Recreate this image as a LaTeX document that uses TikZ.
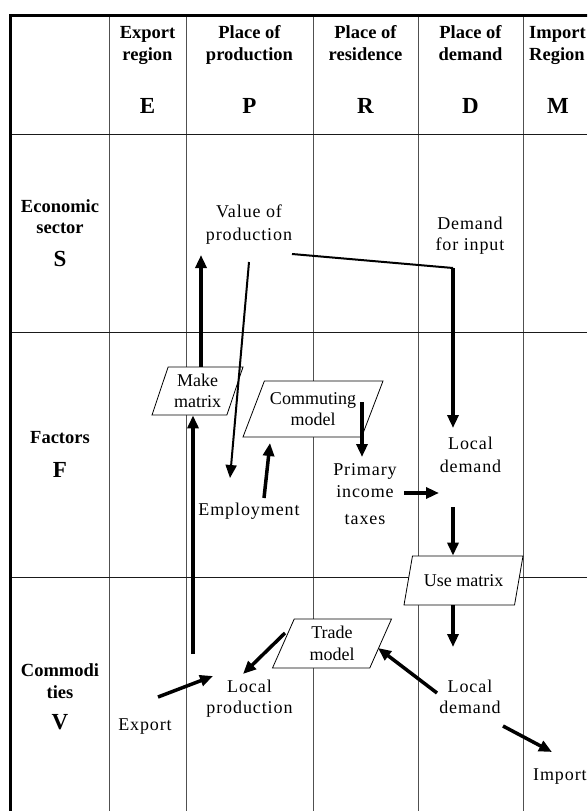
\documentclass[tikz,border=0pt]{standalone}
\usepackage{fontspec}
\setmainfont{Liberation Serif}
\newfontfamily\spacedfont[LetterSpace=5]{Liberation Serif}
\usetikzlibrary{shapes.geometric, arrows.meta, positioning, calc}
\definecolor{GridGray}{HTML}{505050}
\definecolor{GridBlack}{HTML}{1A1A1A}
\tikzset{
    % Table styles
    colline/.style={line width=1pt, draw=GridGray},
    rowline/.style={line width=1pt, draw=GridBlack},
    border/.style={line width=3pt, draw=black},
    colhead/.style={
        font=\fontsize{18.5}{22.5}\selectfont\bfseries,
        align=center,
        inner sep=0pt,
        anchor=base
    },
    keyletter/.style={
        font=\fontsize{23}{28}\selectfont\bfseries,
        inner sep=0pt,
        anchor=base
    },
    % Quantities in the cells
    quantity/.style={
        font=\fontsize{18}{22.5}\selectfont\spacedfont,
        align=center,
        inner sep=0pt,
        anchor=base
    },
    % Model boxes
    model/.style={
        trapezium,
        trapezium left angle=59,
        trapezium right angle=121,
        trapezium stretches body,
        draw=black,
        fill=white,
        line width=0.8pt,
        inner sep=1pt,
        align=center,
        font=\fontsize{18}{21.5}\selectfont
    },
    % Arrow styles
    arrow/.style={
        -{Triangle[length=13pt,width=11pt]},
        line width=3.5pt,
        draw=black
    },
    lightarrow/.style={
        -{Triangle[length=13pt,width=11pt]},
        line width=2pt,
        draw=black
    },
    link/.style={
        line width=2pt,
        draw=black
    }
}

\begin{document}
\begin{tikzpicture}[x=1pt, y=-1pt]
    \useasboundingbox (0,0) rectangle (587,811);
    \clip (0,0) rectangle (587,811);

    % Table
    \foreach \x in {109,186,313,418,523} {
        \draw[colline] (\x,15) -- (\x,811);
    }
    \foreach \y in {134,332,577} {
        \draw[rowline] (10,\y) -- (587,\y);
    }
    \draw[border] (10,812) -- (10,15) -- (588,15);

    % Column heads (base = last line)
    \node[colhead] (hE) at (147.5,60.5) {Export\\region};
    \node[colhead] (hP) at (249.5,60.5) {Place of\\production};
    \node[colhead] (hR) at (365.5,60.5) {Place of\\residence};
    \node[colhead] (hD) at (470.5,60.5) {Place of\\demand};
    \node[colhead, anchor=base west, align=left] (hM) at (529,60.5) {Import\\Region};
    \foreach \c/\x in {E/147.5, P/249.5, R/365.5, D/470.5, M/558} {
        \node[keyletter] (k\c) at (\x,113) {\c};
    }

    % Row heads
    \node[colhead, font=\fontsize{18.5}{21}\selectfont\bfseries] (hS) at (60,233) {Economic\\sector};
    \node[keyletter] (kS) at (60,266) {S};
    \node[colhead] (hF) at (60,443) {Factors};
    \node[keyletter] (kF) at (60,477) {F};
    \node[colhead, font=\fontsize{18.5}{22}\selectfont\bfseries] (hV) at (60,698) {Commodi\\ties};
    \node[keyletter] (kV) at (60,729) {V};

    % Quantities (base = last line)
    \node[quantity] (vp) at (249,240) {Value of\\production};
    \node[quantity, font=\fontsize{18}{21}\selectfont\spacedfont] (dfi) at (470,250) {Demand\\for input};
    \node[quantity] (ldF) at (470.5,472) {Local\\demand};
    \node[quantity] (prim) at (365,524) {Primary\\income\\[4pt]taxes};
    \node[quantity] (emp) at (249,515) {Employment};
    \node[quantity, font=\fontsize{18}{20.5}\selectfont\spacedfont] (lp) at (249.5,713) {Local\\production};
    \node[quantity, font=\fontsize{18}{20.5}\selectfont\spacedfont] (ldV) at (470,713) {Local\\demand};
    \node[quantity] (exp) at (145,730) {Export};
    \node[quantity, anchor=base west] (imp) at (533,780) {Import};

    % Models
    \node[model, minimum width=91pt, minimum height=48pt,
          trapezium left angle=66, trapezium right angle=114] (make) at (197.5,391) {Make\\matrix};
    \node[model, minimum width=140pt, minimum height=56pt] (comm) at (313,409) {Commuting\\model};
    \node[model, minimum width=119pt, minimum height=49pt] (use) at (463.5,580.5) {Use matrix};
    \node[model, minimum width=119pt, minimum height=49pt] (trade) at (332,643.5) {Trade\\model};

    % Free ends of the connectors
    \coordinate (vp-in) at (201,255);
    \coordinate (vp-out) at (249,262);
    \coordinate (vp-right) at (292,254);
    \coordinate (dfi-bend) at (453,268);
    \coordinate (emp-in) at (230,478);
    \coordinate (emp-out) at (264,498);
    \coordinate (comm-in) at (270,443);
    \coordinate (comm-out) at (362,402);
    \coordinate (prim-in) at (362,457);
    \coordinate (prim-out) at (404,493);
    \coordinate (ldF-side) at (439,493);
    \coordinate (ldF-in) at (453,428);
    \coordinate (ldF-out) at (453,507);
    \coordinate (ldV-in) at (453,647);
    \coordinate (ldV-out) at (437,693);
    \coordinate (trade-in) at (378,648);
    \coordinate (trade-out) at (285,633);
    \coordinate (lp-in) at (243,674);
    \coordinate (exp-out) at (158,697);
    \coordinate (lp-left) at (213,676);
    \coordinate (lp-up) at (193,654);
    \coordinate (imp-from) at (503,726);
    \coordinate (imp-in) at (552,752);

    % Sector row
    \draw[arrow] (make.north -| vp-in) -- (vp-in);
    \draw[lightarrow] (vp-out) -- (emp-in);
    \draw[link] (vp-right) -- (dfi-bend);
    \draw[arrow] (dfi-bend) -- (ldF-in);

    % Factor row
    \draw[arrow] (emp-out) -- (comm-in);
    \draw[arrow] (comm-out) -- (prim-in);
    \draw[arrow] (prim-out) -- (ldF-side);
    \draw[arrow] (ldF-out) -- (use.north -| ldF-out);

    % Commodity row
    \draw[arrow] (use.south -| ldV-in) -- (ldV-in);
    \draw[arrow] (ldV-out) -- (trade-in);
    \draw[arrow] (imp-from) -- (imp-in);
    \draw[arrow] (trade-out) -- (lp-in);
    \draw[arrow] (exp-out) -- (lp-left);
    \draw[arrow] (lp-up) -- (make.south -| lp-up);
\end{tikzpicture}
\end{document}
